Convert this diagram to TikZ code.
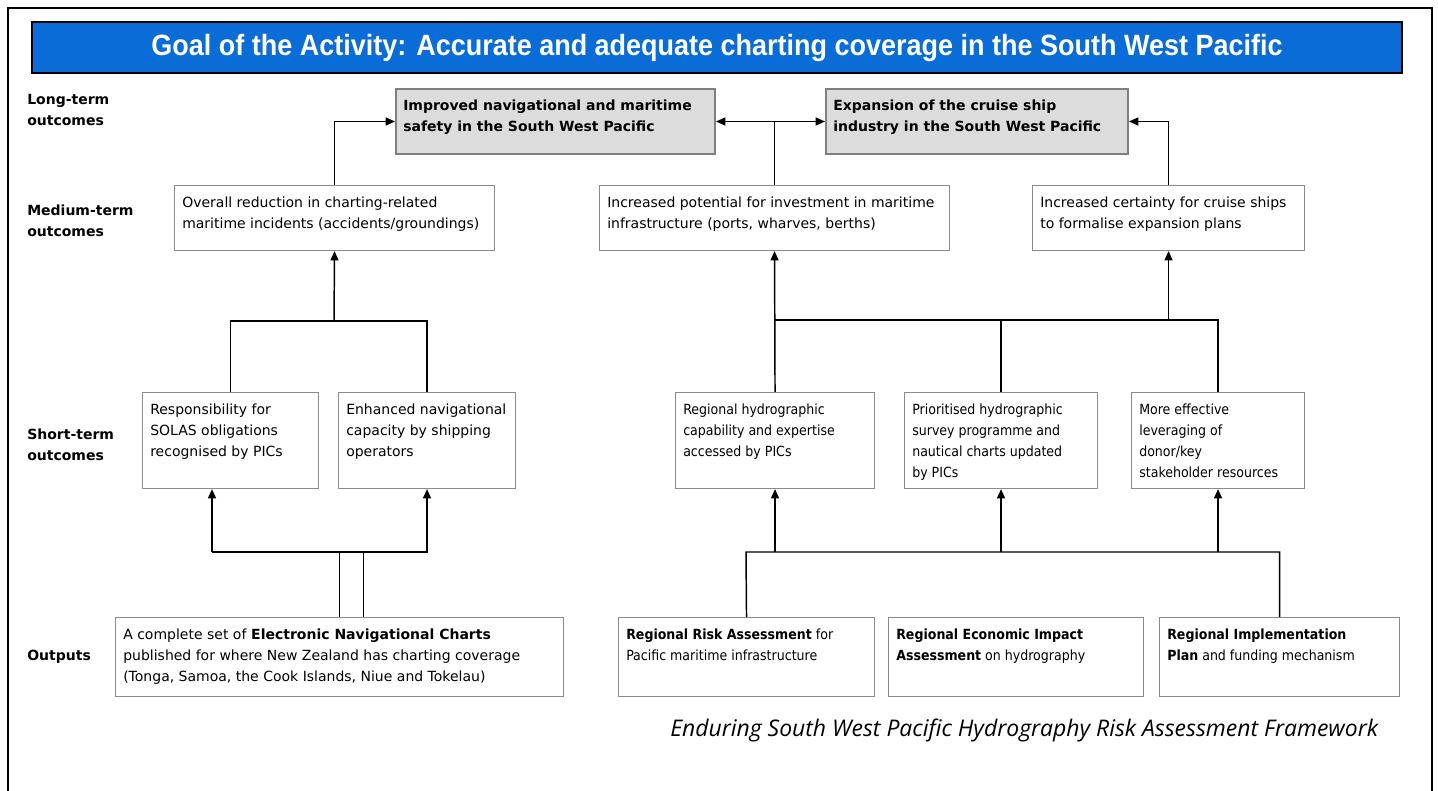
\documentclass[tikz,border=0pt]{standalone}
\usepackage{fontspec}
\setmainfont{DejaVu Sans}
\newfontfamily\condfont{DejaVu Sans Condensed}
\newfontfamily\titlefont{Liberation Sans}[FakeStretch=0.92]
\newfontfamily\capfont{Open Sans}
\usetikzlibrary{arrows.meta,positioning,calc}

\definecolor{titleblue}{HTML}{0A6CD6}
\definecolor{boxgray}{HTML}{8C8C8C}
\definecolor{ltfill}{HTML}{DCDCDC}
\definecolor{ltdraw}{HTML}{7F7F7F}

\tikzset{
  box/.style 2 args={draw=boxgray, line width=0.8pt, fill=white, anchor=north west,
    inner sep=0pt, minimum width=#1*0.75pt, minimum height=#2*0.75pt},
  ltbox/.style 2 args={box={#1}{#2}, draw=ltdraw, fill=ltfill, line width=1.5pt},
  intxt/.style={anchor=north west, align=left, inner sep=0pt, xshift=6pt, yshift=-8.6pt,
    font=\fontsize{10.5}{15.75}\selectfont},
  intxtc/.style={intxt, font=\condfont\fontsize{10.5}{15.75}\selectfont},
  sidelbl/.style={anchor=west, align=left, inner sep=0pt,
    font=\bfseries\fontsize{10.5}{15.75}\selectfont},
  link/.style={line width=1.1pt},
}

\begin{document}
\begin{tikzpicture}[x=0.75pt,y=-0.75pt,>={Triangle[length=7pt,width=6pt]}]
\useasboundingbox (0,0) rectangle (1438,791);

% frame and goal
\draw[line width=2.2pt] (8,800) -- (8,8) -- (1432,8) -- (1432,800);
\node[draw=black, line width=2.2pt, fill=titleblue, minimum width=1370*0.75pt,
  minimum height=51*0.75pt, text=white, font=\titlefont\bfseries\fontsize{22}{24}\selectfont]
  (goal) at (717,47.5) {Goal of the Activity: Accurate and adequate charting coverage in the South West Pacific};

% row labels
\node[sidelbl] (lblong) at (27,109.5) {Long-term\\outcomes};
\node[sidelbl] (lbmed) at (27,220.5) {Medium-term\\outcomes};
\node[sidelbl] (lbshort) at (27,444.5) {Short-term\\outcomes};
\node[sidelbl] (lbout) at (27,657) {Outputs};

% long-term outcomes
\node[ltbox={319}{65}, label={[intxt, font=\bfseries\fontsize{10.5}{15.75}\selectfont]north west:{Improved navigational and maritime\\safety in the South West Pacific}}] (lt1) at (395,88) {};
\node[ltbox={302}{65}, label={[intxt, font=\bfseries\fontsize{10.5}{15.75}\selectfont]north west:{Expansion of the cruise ship\\industry in the South West Pacific}}] (lt2) at (825,88) {};

% medium-term outcomes
\node[box={320}{65}, label={[intxt]north west:{Overall reduction in charting-related\\maritime incidents (accidents/groundings)}}] (mt1) at (174,185) {};
\node[box={350}{65}, label={[intxt]north west:{Increased potential for investment in maritime\\infrastructure (ports, wharves, berths)}}] (mt2) at (599,185) {};
\node[box={272}{65}, label={[intxt]north west:{Increased certainty for cruise ships\\to formalise expansion plans}}] (mt3) at (1032,185) {};

% short-term outcomes
\node[box={176}{96}, label={[intxt]north west:{Responsibility for\\SOLAS obligations\\recognised by PICs}}] (st1) at (142,392) {};
\node[box={177}{96}, label={[intxt]north west:{Enhanced navigational\\capacity by shipping\\operators}}] (st2) at (338,392) {};
\node[box={199}{96}, label={[intxtc]north west:{Regional hydrographic\\capability and expertise\\accessed by PICs}}] (st3) at (675,392) {};
\node[box={193}{96}, label={[intxtc]north west:{Prioritised hydrographic\\survey programme and\\nautical charts updated\\by PICs}}] (st4) at (904,392) {};
\node[box={173}{96}, label={[intxtc]north west:{More effective\\leveraging of\\donor/key\\stakeholder resources}}] (st5) at (1131,392) {};

% outputs
\node[box={448}{79}, label={[intxt]north west:{A complete set of \textbf{Electronic Navigational Charts}\\published for where New Zealand has charting coverage\\(Tonga, Samoa, the Cook Islands, Niue and Tokelau)}}] (out1) at (115,617) {};
\node[box={256}{79}, label={[intxtc]north west:{\textbf{Regional Risk Assessment} for\\Pacific maritime infrastructure}}] (out2) at (618,617) {};
\node[box={255}{79}, label={[intxtc]north west:{\textbf{Regional Economic Impact}\\\textbf{Assessment} on hydrography}}] (out3) at (888,617) {};
\node[box={240}{79}, label={[intxtc]north west:{\textbf{Regional Implementation}\\\textbf{Plan} and funding mechanism}}] (out4) at (1159,617) {};

% medium-term to long-term
\draw[link,->] (mt1.north) |- (lt1.west);
\draw[link,<->] (lt1.east) -- (lt2.west);
\draw[link] (mt2.north) -- (mt2.north |- lt1.east);
\draw[link,->] (mt3.north) |- (lt2.east);

% short-term to medium-term
\coordinate (jl) at (334,321);
\draw[link] (st1.north) |- (jl) -| (st2.north);
\draw[link,->] (jl) -- (mt1.south);
\coordinate (jr) at (774.5,320);
\draw[link,->] (st3.north) -- (mt2.south);
\draw[link] (jr) -| (st5.north);
\draw[link] (st4.north) -- (st4.north |- jr);
\draw[link,->] (mt3.south |- jr) -- (mt3.south);

% outputs to short-term
\coordinate (bl) at (212,552);
\draw[link,->] (bl) -- (bl |- st1.south);
\draw[link,->] (bl) -| (st2.south);
\draw[link] (out1.north) -- (out1.north |- bl);
\draw[link] ($(out1.north)+(24,0)$) -- ($(out1.north |- bl)+(24,0)$);
\coordinate (br) at (746,552);
\draw[link] (out2.north) -- (br) -| (out4.north);
\foreach \n in {st3,st4,st5}
  \draw[link,->] (\n.south |- br) -- (\n.south);

% caption
\node[anchor=west, inner sep=0pt, font=\capfont\itshape\fontsize{17.2}{20}\selectfont] (cap) at (670,730)
  {Enduring South West Pacific Hydrography Risk Assessment Framework};

\end{tikzpicture}
\end{document}
